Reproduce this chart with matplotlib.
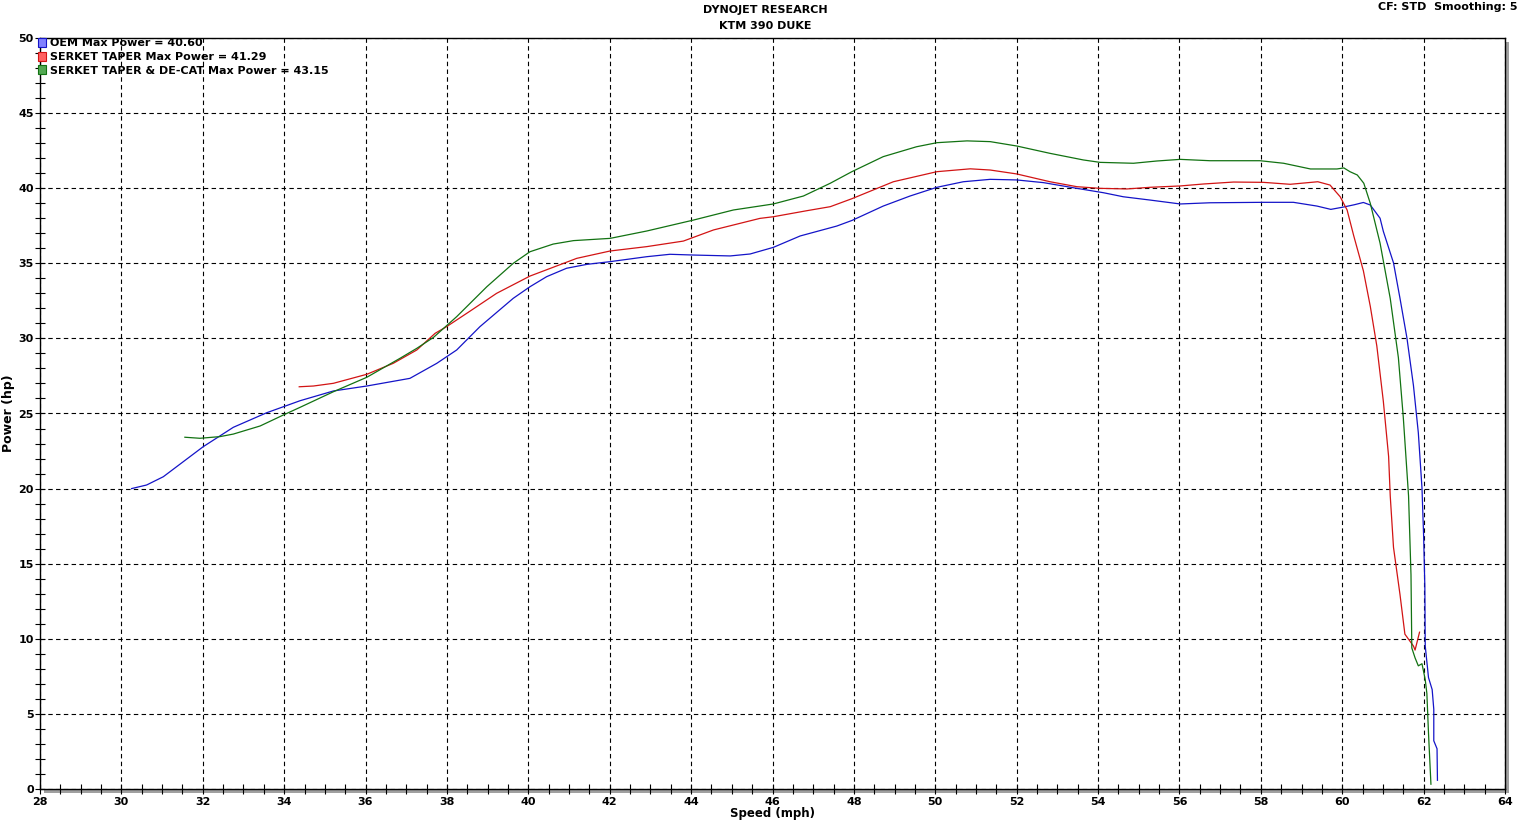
import matplotlib
matplotlib.use("Agg")
import matplotlib.pyplot as plt
from matplotlib.patches import Rectangle
from matplotlib.ticker import MultipleLocator

# OEM
oem_speed = [30.25, 30.62, 31.03, 31.52, 32.01, 32.75, 33.57, 33.98, 34.39, 35.21, 36.03, 37.09, 37.75,
             38.24, 38.81, 39.63, 40.04, 40.45, 40.94, 41.44, 42.01, 42.91, 43.48, 44.06, 44.96, 45.45,
             46.02, 46.68, 47.58, 47.95, 48.72, 49.38, 50.04, 50.69, 51.35, 52.00, 52.66, 53.48, 54.13,
             54.62, 55.28, 56.02, 56.75, 58.06, 58.80, 59.38, 59.72, 60.04, 60.30, 60.52, 60.69, 60.93,
             61.01, 61.26, 61.42, 61.59, 61.75, 61.87, 61.96, 62.00, 62.03, 62.04, 62.12, 62.21, 62.25,
             62.25, 62.33, 62.34]
oem_power = [20.00, 20.24, 20.79, 21.79, 22.79, 24.08, 25.05, 25.45, 25.85, 26.50, 26.83, 27.34, 28.34,
             29.23, 30.78, 32.67, 33.44, 34.11, 34.67, 34.93, 35.11, 35.44, 35.60, 35.55, 35.49, 35.62,
             36.06, 36.82, 37.48, 37.85, 38.81, 39.48, 40.06, 40.43, 40.59, 40.55, 40.37, 39.99, 39.70,
             39.43, 39.21, 38.95, 39.03, 39.06, 39.06, 38.81, 38.59, 38.75, 38.90, 39.05, 38.88, 38.00,
             37.13, 35.03, 32.66, 30.03, 26.87, 23.72, 20.04, 16.88, 13.50, 9.52, 7.42, 6.62, 5.31,
             3.21, 2.68, 0.58]

# SERKET TAPER
taper_speed = [34.37, 34.72, 35.21, 36.03, 36.68, 37.26, 37.71, 37.99, 38.57, 39.22, 40.04, 41.19, 42.01,
               42.91, 43.81, 44.55, 45.69, 46.02, 46.84, 47.42, 47.95, 48.97, 50.04, 50.86, 51.35, 52.00,
               52.82, 53.48, 54.05, 54.71, 55.28, 56.02, 56.59, 57.33, 58.06, 58.72, 59.40, 59.70, 59.95,
               60.12, 60.28, 60.52, 60.69, 60.85, 61.01, 61.14, 61.18, 61.26, 61.42, 61.54, 61.75, 61.79,
               61.90]
taper_power = [26.78, 26.83, 27.01, 27.61, 28.34, 29.23, 30.34, 30.78, 31.82, 33.00, 34.15, 35.33, 35.82,
               36.11, 36.48, 37.22, 37.99, 38.10, 38.50, 38.77, 39.30, 40.43, 41.10, 41.29, 41.21, 40.95,
               40.43, 40.10, 39.99, 39.95, 40.06, 40.15, 40.28, 40.41, 40.39, 40.26, 40.43, 40.21, 39.43,
               38.55, 36.86, 34.50, 32.13, 29.50, 25.82, 22.14, 19.51, 16.09, 12.94, 10.31, 9.52, 9.25,
               10.44]

# SERKET TAPER & DE-CAT
decat_speed = [31.56, 31.93, 32.42, 32.75, 33.41, 33.98, 34.39, 35.21, 36.03, 36.85, 37.26, 37.67, 38.24,
               38.98, 39.63, 40.04, 40.61, 41.11, 42.01, 42.91, 44.06, 45.04, 46.02, 46.76, 47.42, 47.95,
               48.72, 49.54, 50.04, 50.78, 51.35, 52.00, 52.82, 53.64, 54.05, 54.87, 55.44, 56.02, 56.75,
               57.98, 58.56, 59.22, 59.87, 60.04, 60.19, 60.37, 60.53, 60.69, 60.93, 61.18, 61.38, 61.50,
               61.63, 61.69, 61.71, 61.79, 61.87, 61.96, 62.04, 62.08, 62.12, 62.18]
decat_power = [23.42, 23.35, 23.46, 23.63, 24.17, 24.90, 25.41, 26.45, 27.41, 28.68, 29.34, 30.07, 31.45,
               33.44, 35.00, 35.77, 36.28, 36.51, 36.66, 37.15, 37.88, 38.55, 38.95, 39.48, 40.33, 41.10,
               42.10, 42.76, 43.03, 43.15, 43.10, 42.81, 42.32, 41.88, 41.72, 41.66, 41.81, 41.92, 41.83,
               41.83, 41.66, 41.28, 41.28, 41.35, 41.10, 40.88, 40.33, 38.99, 36.34, 32.66, 28.72, 24.77,
               19.51, 14.25, 9.39, 8.73, 8.20, 8.34, 7.28, 6.36, 3.73, 0.32]

labels = ["OEM Max Power = 40.60",
          "SERKET TAPER Max Power = 41.29",
          "SERKET TAPER & DE-CAT Max Power = 43.15"]
colors = ["#1414c8", "#d21414", "#127212"]
swatch = ["#8080ff", "#ff6060", "#52a852"]

W, H = 1530, 822

def fx(px):
    return px / W

def fy(py):
    return 1 - py / H

fig = plt.figure(figsize=(W / 100, H / 100), dpi=100)
ax = fig.add_axes([fx(40), fy(789), fx(1505) - fx(40), fy(38) - fy(789)])

# drop shadow of the plot frame
fig.patches.append(Rectangle((fx(44), fy(793)), fx(1505) - fx(40), fy(38) - fy(789),
                             transform=fig.transFigure, facecolor="#a0a0a0",
                             edgecolor="none", zorder=-1))

series = [(oem_speed, oem_power), (taper_speed, taper_power), (decat_speed, decat_power)]
for (s, p), c in zip(series, colors):
    ax.plot(s, p, color=c, lw=0.9)

ax.set_xlim(28, 64)
ax.set_ylim(0, 50)
ax.xaxis.set_major_locator(MultipleLocator(2))
ax.xaxis.set_minor_locator(MultipleLocator(0.5))
ax.yaxis.set_major_locator(MultipleLocator(5))
ax.yaxis.set_minor_locator(MultipleLocator(1))
ax.grid(True, which="major", color="black", lw=0.8, linestyle=(0, (4, 3)))
ax.tick_params(which="both", direction="inout", length=7, width=0.8, labelsize=8)
ax.tick_params(axis="x", pad=2)
ax.tick_params(axis="y", pad=1)
for lab in ax.get_xticklabels() + ax.get_yticklabels():
    lab.set_fontweight("bold")
for sp in ax.spines.values():
    sp.set_linewidth(1.0)

ax.set_xlabel("Speed (mph)", fontsize=8.5, fontweight="bold", labelpad=0)
ax.set_ylabel("Power (hp)", fontsize=9, fontweight="bold", labelpad=2)

fig.text(fx(765), fy(10), "DYNOJET RESEARCH", ha="center", va="center", fontsize=8, fontweight="bold")
fig.text(fx(765), fy(26), "KTM 390 DUKE", ha="center", va="center", fontsize=8, fontweight="bold")
fig.text(fx(1518), fy(7), "CF: STD  Smoothing: 5", ha="right", va="center", fontsize=8, fontweight="bold")

# legend swatches and texts
for i, (lab, c, sw) in enumerate(zip(labels, colors, swatch)):
    top = 38.5 + i * 13.5
    fig.patches.append(Rectangle((fx(38), fy(top + 9)), fx(8), 9 / H,
                                 transform=fig.transFigure, facecolor=sw,
                                 edgecolor=c, lw=0.8, zorder=5))
    fig.text(fx(50), fy(top + 5), lab, ha="left", va="center", fontsize=8, fontweight="bold")

fig.savefig("out.png", dpi=100)
